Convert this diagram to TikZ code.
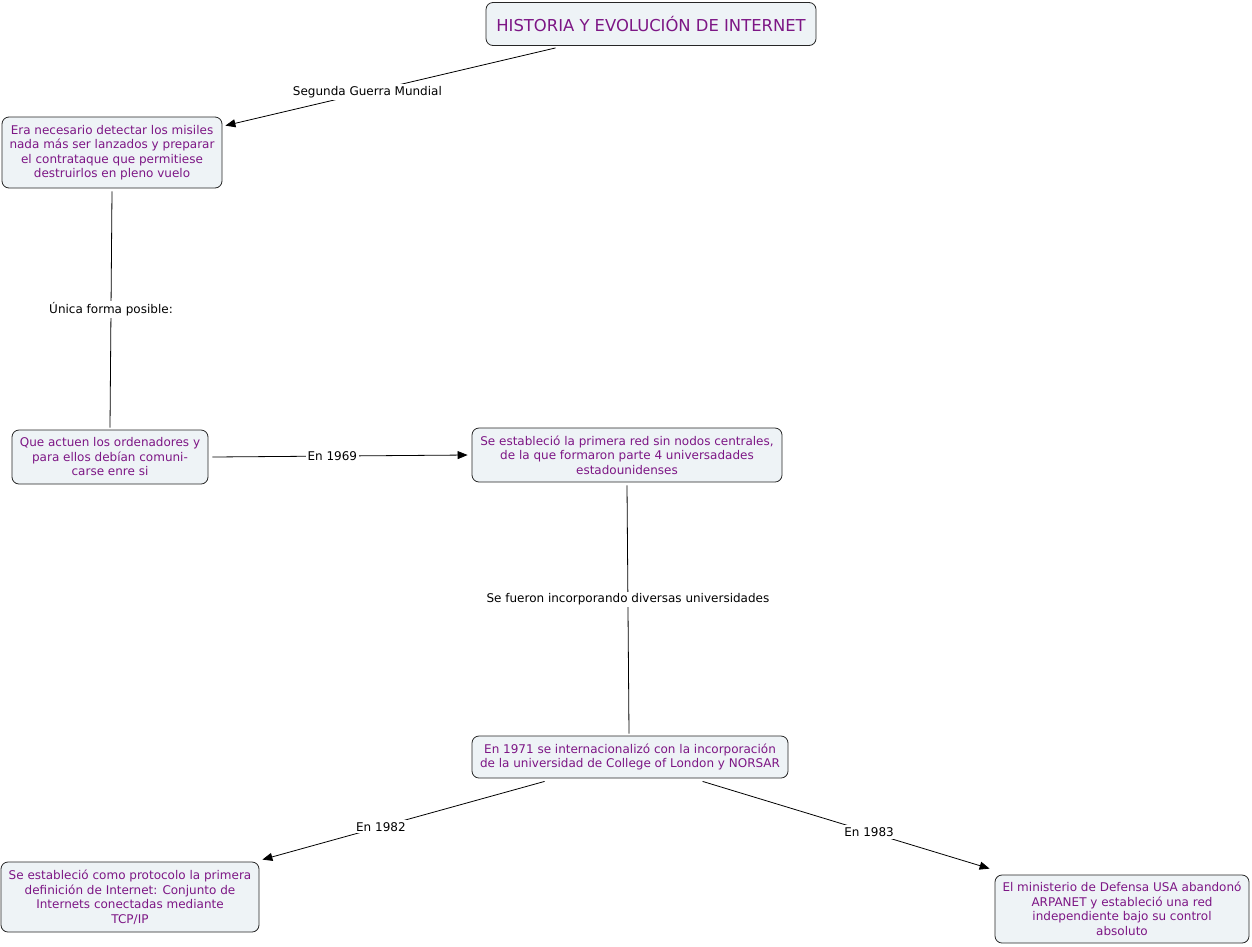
\documentclass[tikz,border=0pt]{standalone}
\usepackage{fontspec}
\setmainfont{DejaVu Sans}
\usetikzlibrary{arrows.meta,calc}
\definecolor{boxfill}{HTML}{EEF3F6}
\definecolor{boxtext}{HTML}{7D1685}
\tikzset{
  concept/.style={draw=black!85, fill=boxfill, rounded corners=7pt, text=boxtext, align=center,
    font=\fontsize{12}{14.5}\selectfont, inner sep=0pt, line width=0.8pt},
  link/.style={draw=black, line width=0.8pt},
  arrowlink/.style={link, -{Triangle[length=10pt,width=8pt]}},
  lbl/.style={fill=white, text=black, font=\fontsize{12}{14}\selectfont, inner sep=2pt}
}
\begin{document}
\begin{tikzpicture}[x=1pt,y=-1pt]
\path[use as bounding box, fill=white] (0,0) rectangle (1252,946);
\node[concept, minimum width=330pt, minimum height=43pt, font=\fontsize{16.4}{18}\selectfont] (title) at (651,24) {HISTORIA Y EVOLUCIÓN DE INTERNET};
\node[concept, minimum width=220pt, minimum height=71pt] (n1) at (112,152.5) {Era necesario detectar los misiles\\nada más ser lanzados y preparar\\el contrataque que permitiese\\destruirlos en pleno vuelo};
\node[concept, minimum width=196pt, minimum height=54pt] (n2) at (110,457) {Que actuen los ordenadores y\\para ellos debían comuni-\\carse enre si};
\node[concept, minimum width=310pt, minimum height=54pt] (n3) at (627,455) {Se estableció la primera red sin nodos centrales,\\de la que formaron parte 4 universadades\\estadounidenses};
\node[concept, minimum width=316pt, minimum height=42pt] (n4) at (630,757) {En 1971 se internacionalizó con la incorporación\\de la universidad de College of London y NORSAR};
\node[concept, minimum width=258pt, minimum height=70pt] (n5) at (130,897) {Se estableció como protocolo la primera\\definición de Internet: Conjunto de\\Internets conectadas mediante\\TCP/IP};
\node[concept, minimum width=254pt, minimum height=68pt] (n6) at (1122,909) {El ministerio de Defensa USA abandonó\\ARPANET y estableció una red\\independiente bajo su control\\absoluto};

\draw[arrowlink] ($(title.south west)+(70,2)$) -- node[lbl, pos=0.57] {Segunda Guerra Mundial} ($(n1.north east)+(3,9)$);
\draw[link] ($(n1.south)+(0,3)$) -- node[lbl, pos=0.5] {Única forma posible:} ($(n2.north)+(0,-2)$);
\draw[arrowlink] ($(n2.east)+(4,0)$) -- node[lbl, pos=0.47] {En 1969} ($(n3.west)+(-4,0)$);
\draw[link] ($(n3.south)+(0,3)$) -- node[lbl, pos=0.46] {Se fueron incorporando diversas universidades} ($(n4.north)+(-1,-2)$);
\draw[arrowlink] ($(n4.south west)+(73,3)$) -- node[lbl, pos=0.58] {En 1982} ($(n5.north east)+(3,-2)$);
\draw[arrowlink] ($(n4.south west)+(231,3)$) -- node[lbl, pos=0.58] {En 1983} ($(n6.north west)+(-5,-6)$);
\end{tikzpicture}
\end{document}
